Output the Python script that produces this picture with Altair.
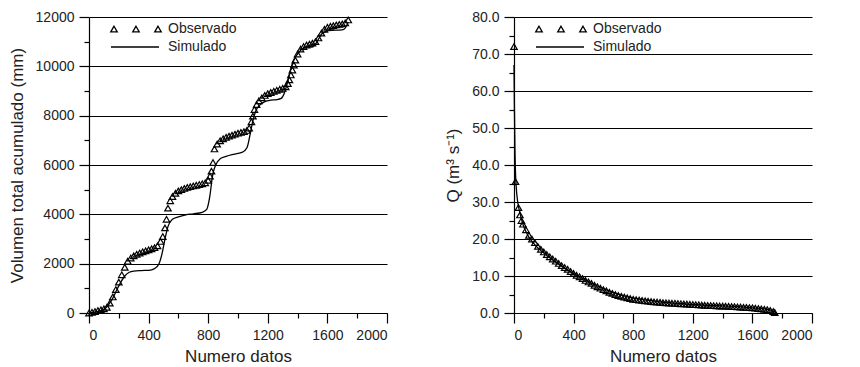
import altair as alt
import pandas as pd

# ---- Left panel: cumulative volume ----
obs_vol_x = [0, 20, 40, 60, 80, 100, 120, 140, 160, 180, 200, 220, 240, 260, 280, 300,
             320, 340, 360, 380, 400, 420, 440, 460, 480, 495, 510, 520, 530, 545, 560, 580,
             600, 620, 640, 660, 680, 700, 720, 740, 760, 780, 800, 812, 822, 832, 842, 860,
             880, 900, 920, 940, 960, 980, 1000, 1020, 1040, 1060, 1075, 1090, 1100, 1110,
             1125, 1140, 1160, 1180, 1200, 1220, 1240, 1260, 1280, 1300, 1320, 1335, 1345,
             1355, 1365, 1375, 1385, 1400, 1420, 1440, 1460, 1480, 1500, 1520, 1540, 1560,
             1580, 1600, 1620, 1640, 1660, 1680, 1700, 1720, 1740]
obs_vol_y = [0, 30, 60, 100, 130, 170, 230, 400, 650, 950, 1250, 1550, 1850, 2100, 2230, 2320,
             2380, 2430, 2480, 2520, 2560, 2600, 2650, 2720, 2900, 3100, 3450, 3800, 4250, 4550, 4720, 4850,
             4950, 5000, 5050, 5090, 5120, 5150, 5180, 5210, 5240, 5280, 5380, 5550, 5750, 6100, 6650, 6850,
             6980, 7060, 7120, 7170, 7210, 7250, 7290, 7320, 7350, 7400, 7500, 7750, 7980, 8250,
             8450, 8600, 8720, 8820, 8890, 8940, 8990, 9030, 9070, 9110, 9170, 9300, 9450,
             9650, 9850, 10050, 10250, 10500, 10700, 10800, 10860, 10900, 10940, 11000, 11150, 11350,
             11500, 11580, 11620, 11650, 11680, 11700, 11720, 11760, 11880]

sim_vol_x = [0, 100, 150, 200, 240, 270, 300, 350, 400, 440, 470, 490, 510, 530, 560, 600,
             650, 700, 760, 790, 810, 830, 850, 880, 920, 960, 1000, 1030, 1060, 1080, 1100,
             1120, 1150, 1180, 1220, 1260, 1290, 1310, 1330, 1350, 1370, 1400, 1430, 1460,
             1500, 1520, 1540, 1560, 1590, 1630, 1680, 1710, 1740]
sim_vol_y = [0, 150, 500, 1100, 1500, 1650, 1700, 1720, 1730, 1800, 2000, 2400, 3000, 3500, 3800, 3900,
             3980, 4020, 4080, 4200, 4700, 5600, 6000, 6250, 6350, 6420, 6470, 6520, 6700, 7200, 7800,
             8200, 8450, 8570, 8630, 8650, 8700, 8900, 9300, 9800, 10200, 10500, 10700, 10780,
             10800, 10900, 11100, 11300, 11420, 11460, 11470, 11500, 11800]

# ---- Right panel: discharge ----
obs_q_x = [0, 10, 30, 40, 50, 60, 80, 100, 120, 140, 160, 180, 200, 220, 240, 260, 280, 300,
           320, 340, 360, 380, 400, 420, 440, 460, 480, 500, 520, 540, 560, 580, 600, 620,
           640, 660, 680, 700, 720, 740, 760, 780, 800, 820, 840, 860, 880, 900, 920, 940,
           960, 980, 1000, 1020, 1040, 1060, 1080, 1100, 1120, 1140, 1160, 1180, 1200, 1220,
           1240, 1260, 1280, 1300, 1320, 1340, 1360, 1380, 1400, 1420, 1440, 1460, 1480, 1500,
           1520, 1540, 1560, 1580, 1600, 1620, 1640, 1660, 1680, 1700, 1720, 1740, 1750]
obs_q_y = [72, 35.5, 28.5, 26.5, 25, 24, 22.5, 21, 20, 19, 18, 17.2, 16.5, 15.8, 15.2, 14.6, 14.0, 13.4,
           12.8, 12.3, 11.8, 11.2, 10.7, 10.2, 9.8, 9.3, 8.8, 8.4, 8.0, 7.5, 7.1, 6.7, 6.3, 6.0,
           5.6, 5.3, 5.0, 4.7, 4.5, 4.3, 4.1, 3.9, 3.7, 3.6, 3.5, 3.4, 3.3, 3.2, 3.1, 3.0,
           2.95, 2.9, 2.8, 2.75, 2.7, 2.65, 2.6, 2.55, 2.5, 2.45, 2.4, 2.35, 2.3, 2.25,
           2.2, 2.15, 2.1, 2.05, 2.0, 1.98, 1.95, 1.9, 1.88, 1.85, 1.8, 1.75, 1.7, 1.65,
           1.6, 1.55, 1.5, 1.45, 1.4, 1.3, 1.2, 1.1, 1.0, 0.9, 0.7, 0.4, 0.1]

sim_q_x = [0, 3, 6, 10, 15, 25, 40, 60, 80, 100, 150, 200, 250, 300, 350, 400, 450, 500,
           550, 600, 650, 700, 750, 800, 900, 1000, 1100, 1200, 1300, 1400, 1500, 1600,
           1700, 1740, 1760]
sim_q_y = [67, 55, 45, 38, 34, 30, 27, 24, 22, 20.5, 18, 16.2, 14.6, 13.2, 11.9, 10.7, 9.6, 8.5,
           7.5, 6.6, 5.8, 5.1, 4.5, 4.0, 3.4, 2.9, 2.6, 2.3, 2.1, 1.9, 1.7, 1.4,
           1.0, 0.5, 0.0]

x_ticks = list(range(0, 2001, 200))
vol_ticks = list(range(0, 12001, 1000))
q_ticks = list(range(0, 81, 5))

FONT = "Liberation Sans"
W, H = 298, 296


def legend_layers():
    one = pd.DataFrame({"a": [0]})
    layers = []
    for px in [25, 47, 69]:
        layers.append(alt.Chart(one).mark_point(shape="triangle-up", size=42, filled=False,
                                                color="black", strokeWidth=1.3, opacity=1)
                      .encode(x=alt.value(px), y=alt.value(12)))
    layers.append(alt.Chart(one).mark_rule(color="black", strokeWidth=1.6)
                  .encode(x=alt.value(22), x2=alt.value(70), y=alt.value(30)))
    layers.append(alt.Chart(one).mark_text(align="left", baseline="middle", font=FONT,
                                           fontSize=14, color="#222")
                  .encode(x=alt.value(79), y=alt.value(12), text=alt.value("Observado")))
    layers.append(alt.Chart(one).mark_text(align="left", baseline="middle", font=FONT,
                                           fontSize=14, color="#222")
                  .encode(x=alt.value(79), y=alt.value(30), text=alt.value("Simulado")))
    return layers


def cond(test, a, b):
    return {"condition": {"test": test, "value": a}, "value": b}


def panel(ox, oy, sx, sy, ymax, yticks, major, ytitle, yfmt):
    obs = pd.DataFrame({"x": ox, "y": oy})
    sim = pd.DataFrame({"x": sx, "y": sy})
    xenc = alt.X("x:Q", scale=alt.Scale(domain=[0, 2000], nice=False),
                 axis=alt.Axis(values=x_ticks, tickCount=100, title="Numero datos", grid=False,
                               labelOverlap=False,
                               labelExpr="datum.value % 400 === 0 ? datum.label : ''",
                               tickSize=cond("datum.value % 400 === 0", 10, 5),
                               format="d"))
    ytest = f"datum.value % {major} === 0"
    yenc = alt.Y("y:Q", scale=alt.Scale(domain=[0, ymax], nice=False),
                 axis=alt.Axis(values=yticks, tickCount=100, title=ytitle, format=yfmt, grid=True,
                               labelOverlap=False,
                               labelExpr=f"{ytest} ? datum.label : ''",
                               tickSize=cond(ytest, 10, 5),
                               gridOpacity=cond(ytest, 1, 0)))
    line = alt.Chart(sim).mark_line(color="black", strokeWidth=1.3,
                                    interpolate="monotone").encode(x=xenc, y=yenc)
    pts = alt.Chart(obs).mark_point(shape="triangle-up", size=42, filled=False,
                                    color="black", strokeWidth=1.2, opacity=1).encode(x="x:Q", y="y:Q")
    return alt.layer(line, pts, *legend_layers()).properties(width=W, height=H)


left = panel(obs_vol_x, obs_vol_y, sim_vol_x, sim_vol_y, 12000, vol_ticks, 2000,
             "Volumen total acumulado (mm)", "d")
right = panel(obs_q_x, obs_q_y, sim_q_x, sim_q_y, 80, q_ticks, 10,
              "Q (m³ s⁻¹)", ".1f")

chart = alt.hconcat(left, right, spacing=56).properties(
    padding={"left": 0, "top": 2, "right": 5, "bottom": 0}
).configure_view(
    stroke=None
).configure_axis(
    domainColor="black", domainWidth=1.2, tickColor="black", tickWidth=1.2,
    gridColor="black", gridWidth=1.2,
    labelFont=FONT, labelFontSize=14, labelColor="#222", labelPadding=5,
    titleFont=FONT, titleFontSize=17, titleFontWeight="normal", titleColor="#222",
).configure_axisX(titlePadding=6).configure_axisY(titlePadding=9)

chart.save("out.html", embed_options={"renderer": "svg", "actions": False})
